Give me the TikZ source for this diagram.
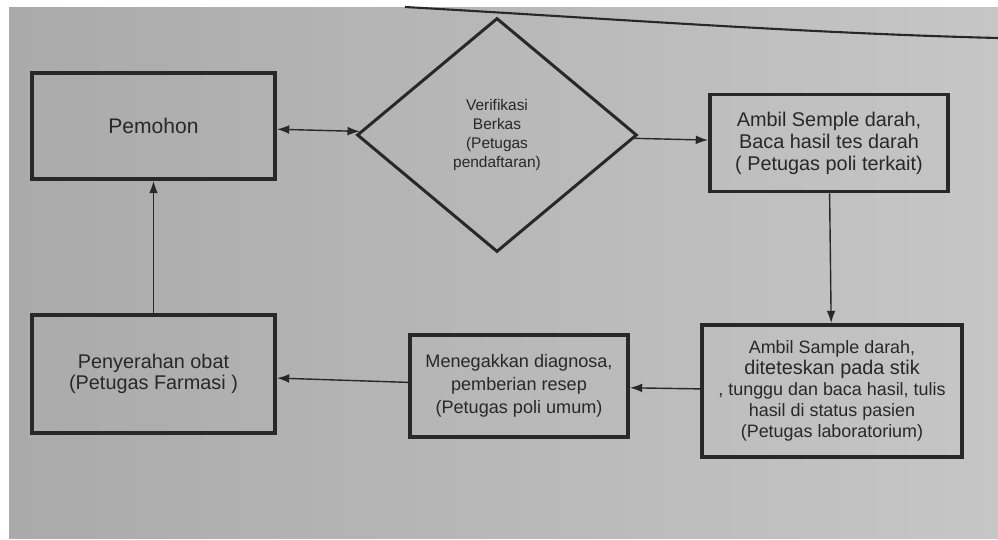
\documentclass[tikz,border=0pt]{standalone}
\usepackage{fontspec}
\setmainfont{Liberation Sans}
\usepackage{xcolor}
\usepackage{tikz}
\usetikzlibrary{shapes.geometric,arrows.meta}

\definecolor{paperL}{RGB}{170,170,170}
\definecolor{paperR}{RGB}{198,198,198}
\definecolor{ink}{RGB}{40,40,40}

\begin{document}
\begin{tikzpicture}[x=0.02cm,y=-0.02cm,
  box/.style={draw=ink, line width=2.2pt, rectangle, inner sep=0pt, text=ink, align=center},
  decision/.style={draw=ink, line width=1.7pt, diamond, inner sep=0pt, text=ink, align=center},
  flow/.style={draw=ink, line width=0.8pt, -{Latex[length=7pt,width=5pt]}}]

\useasboundingbox (0,0) rectangle (998,539);
\fill[white] (0,0) rectangle (998,539);
\shade[left color=paperL, right color=paperR] (9,7) rectangle (998,538);
\draw[ink, line width=1.2pt] (405,7) .. controls (600,18) and (800,33) .. (998,38);

\node[box, minimum width=4.86cm, minimum height=2.12cm, font=\fontsize{12}{14}\selectfont] (pemohon) at (153.5,126) {Pemohon};

\node[decision, minimum width=5.6cm, minimum height=4.68cm, font=\fontsize{8.8}{10.8}\selectfont] (verif) at (497,135) {Verifikasi\\Berkas\\(Petugas\\pendaftaran)};

\node[box, minimum width=4.76cm, minimum height=1.94cm, font=\fontsize{11.3}{12.5}\selectfont] (ambil) at (829,143) {Ambil Semple darah,\\Baca hasil tes darah\\( Petugas poli terkait)};

\node[box, minimum width=5.2cm, minimum height=2.64cm, font=\fontsize{10.2}{12}\selectfont] (lab) at (832,391) {Ambil Sample darah,\\{\fontsize{11.3}{12}\selectfont diteteskan pada stik}\\, tunggu dan baca hasil, tulis\\hasil di status pasien\\(Petugas laboratorium)};

\node[box, minimum width=4.36cm, minimum height=2.04cm, font=\fontsize{10.3}{13}\selectfont] (diagnosa) at (519,386) {Menegakkan diagnosa,\\pemberian resep\\(Petugas poli umum)};

\node[box, minimum width=4.86cm, minimum height=2.36cm, font=\fontsize{11.3}{12}\selectfont] (farmasi) at (153.5,374) {Penyerahan obat\\(Petugas Farmasi )};

\draw[flow, {Latex[length=7pt,width=5pt]}-{Latex[length=7pt,width=5pt]}] (pemohon) -- (verif);
\draw[flow] (verif) -- (ambil);
\draw[flow] (ambil) -- (lab);
\draw[flow] (lab) -- (diagnosa);
\draw[flow] (diagnosa) -- (farmasi);
\draw[flow] (farmasi) -- (pemohon);

\end{tikzpicture}
\end{document}
